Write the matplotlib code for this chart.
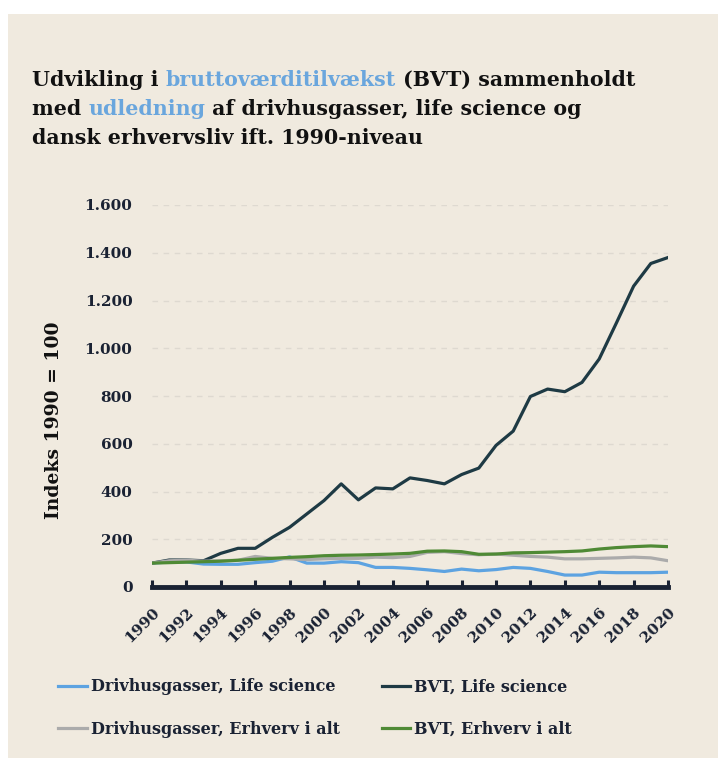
import matplotlib
matplotlib.use("Agg")
import matplotlib.pyplot as plt
from matplotlib.patches import Rectangle
import numpy as np

plt.rcParams['font.family'] = ['DejaVu Serif']
plt.rcParams['font.weight'] = 'bold'

years = list(range(1990, 2021))
ghg_life = [100, 105, 105, 96, 95, 95, 102, 108, 126, 100, 100, 106, 102, 82, 82, 78, 72, 65, 75, 68, 73, 82, 78, 65, 50, 50, 62, 60, 60, 60, 62]
bvt_life = [100, 113, 113, 110, 141, 162, 162, 208, 250, 306, 362, 432, 365, 415, 411, 457, 446, 432, 471, 498, 593, 653, 798, 829, 818, 857, 955, 1106, 1260, 1355, 1380]
ghg_total = [100, 110, 112, 108, 110, 112, 128, 120, 118, 115, 118, 120, 120, 125, 123, 128, 145, 148, 140, 135, 138, 133, 128, 125, 118, 118, 120, 122, 125, 122, 110]
bvt_total = [100, 102, 104, 106, 108, 112, 116, 120, 124, 127, 131, 133, 134, 136, 138, 141, 150, 151, 148, 137, 138, 143, 144, 146, 148, 151, 159, 165, 169, 172, 169]

series_labels = ['Drivhusgasser, Life science', 'BVT, Life science',
                 'Drivhusgasser, Erhverv i alt', 'BVT, Erhverv i alt']
colors = ['#5DA3E1', '#1E3A44', '#ABABAB', '#4F8A35']
ytick_vals = [0, 200, 400, 600, 800, 1000, 1200, 1400, 1600]
ytick_labels = ['0', '200', '400', '600', '800', '1.000', '1.200', '1.400', '1.600']

bg = '#F0EADF'
dark = '#1A2233'
W, H = 718, 758

fig = plt.figure(figsize=(W / 100, H / 100), dpi=100)
fig.patch.set_facecolor('white')
fig.patches.append(Rectangle((8 / W, 0), 1 - 8 / W, 1 - 14 / H, transform=fig.transFigure,
                             facecolor=bg, edgecolor='none', zorder=-10))

ax = fig.add_axes([152 / W, 1 - 587 / H, (668 - 152) / W, (587 - 205) / H])
ax.set_facecolor(bg)
ax.patch.set_alpha(0)

series = [ghg_life, bvt_life, ghg_total, bvt_total]
order = [2, 0, 3, 1]
lines = {}
for i in order:
    ln, = ax.plot(years, series[i], color=colors[i], lw=2.3, label=series_labels[i], zorder=3 + i,
                  solid_joinstyle='round')
    lines[i] = ln

ax.set_xlim(1990, 2020)
ax.set_ylim(0, 1600)
ax.set_yticks(ytick_vals)
ax.set_yticklabels(ytick_labels, fontsize=11, color=dark)
ax.set_xticks(years[::2])
ax.set_xticklabels([str(y) for y in years[::2]], rotation=45, ha='right', va='top',
                   rotation_mode='anchor', fontsize=11, color=dark)
ax.tick_params(axis='y', length=0, pad=14)
ax.tick_params(axis='x', direction='in', length=5, width=2.2, color=dark, pad=13)
for g in ytick_vals[1:]:
    ax.axhline(g, color='#DED9D0', lw=1, ls=(0, (4, 4)), zorder=1)
for s in ['top', 'right', 'left']:
    ax.spines[s].set_visible(False)
ax.spines['bottom'].set_color(dark)
ax.spines['bottom'].set_linewidth(3.5)
ax.spines['bottom'].set_zorder(10)

fig.text(54 / W, 1 - 420 / H, 'Indeks 1990 = 100', rotation=90, ha='center', va='center',
         fontsize=13.5, color='#111111')

# title with coloured words
title_lines = [
    [('Udvikling i ', '#111111'), ('bruttoværditilvækst', '#6AA6DD'), (' (BVT) sammenholdt', '#111111')],
    [('med ', '#111111'), ('udledning', '#6AA6DD'), (' af drivhusgasser, life science og', '#111111')],
    [('dansk erhvervsliv ift. 1990-niveau', '#111111')],
]
renderer = fig.canvas.get_renderer()
y0 = 1 - 86 / H
for li, parts in enumerate(title_lines):
    x = 32 / W
    y = y0 - li * 29 / H
    for txt, c in parts:
        t = fig.text(x, y, txt, fontsize=14.8, color=c, ha='left', va='baseline')
        bb = t.get_window_extent(renderer=renderer)
        x += bb.width / W

leg_order = [0, 2, 1, 3]
leg = fig.legend([lines[i] for i in leg_order], [series_labels[i] for i in leg_order], ncol=2,
                 loc='upper left', bbox_to_anchor=(44 / W, 1 - 664 / H),
                 frameon=False, fontsize=11.5, handlelength=1.8, handletextpad=0.25,
                 columnspacing=2.6, labelspacing=1.6, labelcolor=dark)

fig.savefig('out.png', dpi=100, facecolor=fig.get_facecolor())
